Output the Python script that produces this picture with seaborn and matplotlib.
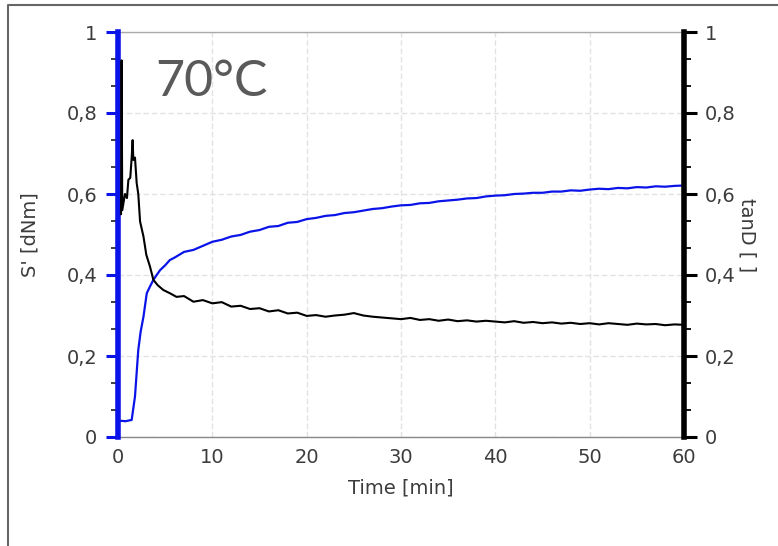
import matplotlib
matplotlib.use("Agg")
import matplotlib.pyplot as plt
from matplotlib.lines import Line2D
from matplotlib.ticker import MultipleLocator, FixedLocator
import numpy as np
import pandas as pd
import seaborn as sns

# S' curve (blue, left axis)
t_s = [0, 0.3, 0.8, 1.2, 1.45, 1.8, 2.15, 2.4, 2.7, 3.05, 3.4, 3.75, 4.1, 4.46,
       5, 5.5, 6, 7, 8, 9, 10, 11, 12, 13, 14, 15, 16, 17, 18, 19, 20,
       21, 22, 23, 24, 25, 26, 27, 28, 29, 30, 31, 32, 33, 34, 35, 36, 37, 38, 39, 40,
       41, 42, 43, 44, 45, 46, 47, 48, 49, 50, 51, 52, 53, 54, 55, 56, 57, 58, 59, 60]
s_prime = [0.038, 0.04, 0.039, 0.041, 0.042, 0.10, 0.215, 0.26, 0.297, 0.355, 0.372, 0.388, 0.40, 0.412,
           0.424, 0.437, 0.443, 0.457, 0.462, 0.472, 0.482, 0.487, 0.495, 0.499, 0.507, 0.511, 0.519, 0.521, 0.529, 0.531, 0.538,
           0.541, 0.546, 0.548, 0.553, 0.555, 0.559, 0.563, 0.565, 0.569, 0.572, 0.573, 0.577, 0.578, 0.582, 0.584, 0.586, 0.589, 0.590, 0.594, 0.596,
           0.597, 0.600, 0.601, 0.603, 0.603, 0.606, 0.606, 0.609, 0.608, 0.611, 0.613, 0.612, 0.615, 0.614, 0.617, 0.616, 0.619, 0.618, 0.620, 0.621]

# tanD curve (black, right axis)
t_tan = [0.32, 0.38, 0.45, 0.74, 0.95, 1.1, 1.3, 1.45, 1.55, 1.63, 1.8, 1.98, 2.15, 2.34, 2.7, 3.0, 3.4, 3.75,
         4.2, 4.8, 5.5, 6.2, 7, 8, 9, 10, 11, 12, 13, 14, 15, 16, 17, 18, 19, 20,
         21, 22, 23, 24, 25, 26, 27, 28, 29, 30, 31, 32, 33, 34, 35, 36, 37, 38, 39, 40,
         41, 42, 43, 44, 45, 46, 47, 48, 49, 50, 51, 52, 53, 54, 55, 56, 57, 58, 59, 60]
tan_d = [0.55, 0.93, 0.56, 0.60, 0.59, 0.635, 0.64, 0.69, 0.733, 0.684, 0.69, 0.627, 0.60, 0.532, 0.495, 0.45, 0.42, 0.388,
         0.375, 0.363, 0.355, 0.346, 0.348, 0.334, 0.338, 0.33, 0.333, 0.322, 0.324, 0.316, 0.318, 0.31, 0.313, 0.305, 0.307, 0.299,
         0.301, 0.297, 0.300, 0.302, 0.306, 0.300, 0.297, 0.295, 0.293, 0.291, 0.294, 0.289, 0.291, 0.287, 0.290, 0.286, 0.288, 0.285, 0.287, 0.285,
         0.283, 0.286, 0.282, 0.284, 0.281, 0.283, 0.280, 0.282, 0.279, 0.281, 0.278, 0.281, 0.279, 0.277, 0.280, 0.278, 0.279, 0.276, 0.278, 0.277]

x_ticks = [0, 10, 20, 30, 40, 50, 60]
y_ticks = [0, 0.2, 0.4, 0.6, 0.8, 1]
y_labels = ["0", "0,2", "0,4", "0,6", "0,8", "1"]

sns.set_style("white")
plt.rcParams["font.family"] = ["DejaVu Sans"]

blue = "#0a14e8"
txt = "#3c3c3c"

fig = plt.figure(figsize=(7.78, 5.46), dpi=100)
ax = fig.add_axes([118 / 778, 1 - 437 / 546, (684 - 118) / 778, (437 - 32) / 546])
ax2 = ax.twinx()

df_s = pd.DataFrame({"t": t_s, "v": s_prime})
df_t = pd.DataFrame({"t": t_tan, "v": tan_d})
sns.lineplot(data=df_s, x="t", y="v", ax=ax, color=blue, lw=1.6, zorder=3)
sns.lineplot(data=df_t, x="t", y="v", ax=ax2, color="black", lw=1.5)

for a in (ax, ax2):
    a.set_xlim(0, 60)
    a.set_ylim(0, 1)
    a.set_yticks(y_ticks)
    a.set_yticklabels(y_labels)
    a.yaxis.set_minor_locator(FixedLocator([i / 15 for i in range(16) if i % 3 != 0]))
    a.set_xlabel("")
    a.set_ylabel("")
    for s in ("top", "bottom", "left", "right"):
        a.spines[s].set_visible(False)

ax.set_xticks(x_ticks)
ax.xaxis.set_minor_locator(MultipleLocator(0.5))
ax.tick_params(axis="x", which="major", direction="inout", length=8, width=1, color="#777777",
               labelsize=14, labelcolor=txt, pad=4)
ax.tick_params(axis="x", which="minor", direction="inout", length=5, width=0.8, color="#888888")
ax.tick_params(axis="y", which="major", left=True, length=9, width=2.2, color=blue,
               labelsize=14, labelcolor=txt, pad=6)
ax.tick_params(axis="y", which="minor", left=True, length=5, width=1.3, color="#333333")
ax2.tick_params(axis="y", which="major", right=True, length=9, width=2.2, color="black",
                labelsize=14, labelcolor=txt, pad=6)
ax2.tick_params(axis="y", which="minor", right=True, length=5, width=1.3, color="black")

ax.grid(True, which="major", color="#e2e2e2", lw=1, ls=(0, (4, 2)))
ax.spines["bottom"].set_visible(True)
ax.spines["bottom"].set_color("#888888")
ax.spines["bottom"].set_linewidth(1)
ax.spines["top"].set_visible(True)
ax.spines["top"].set_color("#aaaaaa")
ax.spines["top"].set_linestyle((0, (1, 1)))
ax.spines["top"].set_linewidth(1)
ax.spines["left"].set_visible(True)
ax.spines["left"].set_color(blue)
ax.spines["left"].set_linewidth(4)
ax.spines["left"].set_zorder(5)
ax2.spines["right"].set_visible(True)
ax2.spines["right"].set_color("black")
ax2.spines["right"].set_linewidth(4)

ax.set_xlabel("Time [min]", fontsize=14, color=txt, labelpad=8)
fig.text(30 / 778, 1 - 235 / 546, "S' [dNm]", rotation=90, fontsize=14, color=txt, ha="center", va="center")
fig.text(747 / 778, 1 - 235 / 546, "tanD [ ]", rotation=270, fontsize=14, color=txt, ha="center", va="center")

ax.text(155 / 778, 1 - 82 / 546, "70°C", transform=fig.transFigure, fontsize=36, color="#5a5a5a",
        family="Lato", ha="left", va="center")

# outer frame
fig.add_artist(Line2D([8 / 778, 8 / 778, 1], [0, 1 - 5 / 546, 1 - 5 / 546],
                      transform=fig.transFigure, color="#666666", lw=1.5))

fig.savefig("out.png", dpi=100)
